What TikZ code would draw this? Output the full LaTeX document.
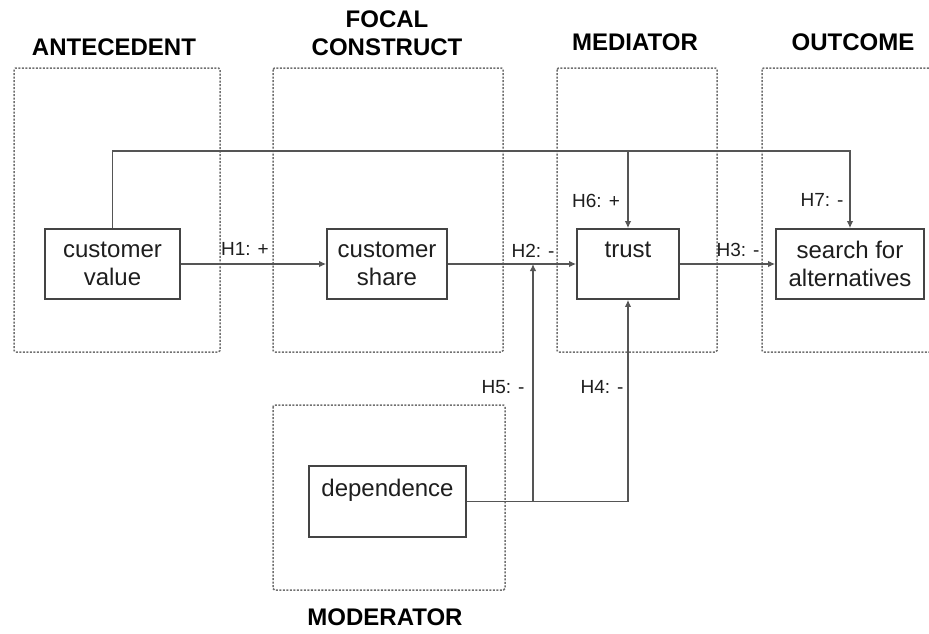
\documentclass[tikz,border=0pt]{standalone}
\usepackage{fontspec}
\setmainfont{Liberation Sans}
\usetikzlibrary{arrows.meta}
\definecolor{framegray}{HTML}{707070}
\definecolor{boxgray}{HTML}{444444}
\definecolor{linegray}{HTML}{555555}
\definecolor{inkgray}{HTML}{1E1E1E}
\tikzset{
  frame/.style={draw=framegray, line width=1.5pt, dash pattern=on 2pt off 1.5pt, rounded corners=1.5pt},
  concept/.style={draw=boxgray, line width=1.8pt, fill=white, align=center, inner sep=0pt,
    text=inkgray, font=\fontsize{24}{28}\selectfont},
  link/.style={draw=linegray, line width=1.2pt},
  arr/.style={link, -{Latex[length=7pt,width=6.5pt]}},
  hyp/.style={text=inkgray, font=\fontsize{19}{22}\selectfont, inner sep=0pt},
  head/.style={text=black, align=center, inner sep=0pt, font=\bfseries\fontsize{24}{28}\selectfont}
}
\begin{document}
\begin{tikzpicture}[x=1pt,y=-1pt]
\clip (0,0) rectangle (929,633);
\fill[white] (0,0) rectangle (929,633);

% group frames
\draw[frame] (14,68) rectangle (220,352);
\draw[frame] (273,68) rectangle (503,352);
\draw[frame] (557,68) rectangle (717,352);
\draw[frame] (762,68) rectangle (945,352);
\draw[frame] (273,405) rectangle (505,590);

% group headings
\node[head] (hAnt) at (114,47) {ANTECEDENT};
\node[head] (hFoc) at (387,33.5) {FOCAL\\CONSTRUCT};
\node[head] (hMed) at (635,42) {MEDIATOR};
\node[head] (hOut) at (853,42) {OUTCOME};
\node[head] (hMod) at (385,617) {MODERATOR};

% constructs
\node[concept, minimum width=135pt, minimum height=70pt] (cv) at (112.5,264) {customer\\value};
\node[concept, minimum width=120pt, minimum height=70pt] (cs) at (387,264) {customer\\share};
\node[concept, minimum width=102pt, minimum height=70pt] (tr) at (628,264) {trust\\\mbox{}};
\node[concept, minimum width=148pt, minimum height=70pt] (sa) at (850,264) {search for\\alternatives};
\node[concept, minimum width=157pt, minimum height=71pt] (dep) at (387.5,501.5) {dependence\\\mbox{}};

% helper points
\coordinate (rail) at (0,151);
\coordinate (h2in) at (533,264);

% main paths
\draw[arr] (cv.east) -- (cs.west);
\draw[arr] (cs.east) -- (tr.west);
\draw[arr] (tr.east) -- (sa.west);

% direct effects over the top
\draw[arr] (cv.north) -- (cv.north |- rail) -- (sa.north |- rail) -- (sa.north);
\draw[arr] (tr.north |- rail) -- (tr.north);

% moderating effects
\draw[arr] (dep.east) -| (tr.south);
\draw[arr] (dep.east -| h2in) -- (h2in);

% hypothesis labels
\node[hyp] (l1) at (245,249) {H1: +};
\node[hyp] (l2) at (533,251) {H2: -};
\node[hyp] (l3) at (738,250) {H3: -};
\node[hyp] (l6) at (596,201) {H6: +};
\node[hyp] (l7) at (822,200) {H7: -};
\node[hyp] (l5) at (503,387) {H5: -};
\node[hyp] (l4) at (602,387) {H4: -};
\end{tikzpicture}
\end{document}
